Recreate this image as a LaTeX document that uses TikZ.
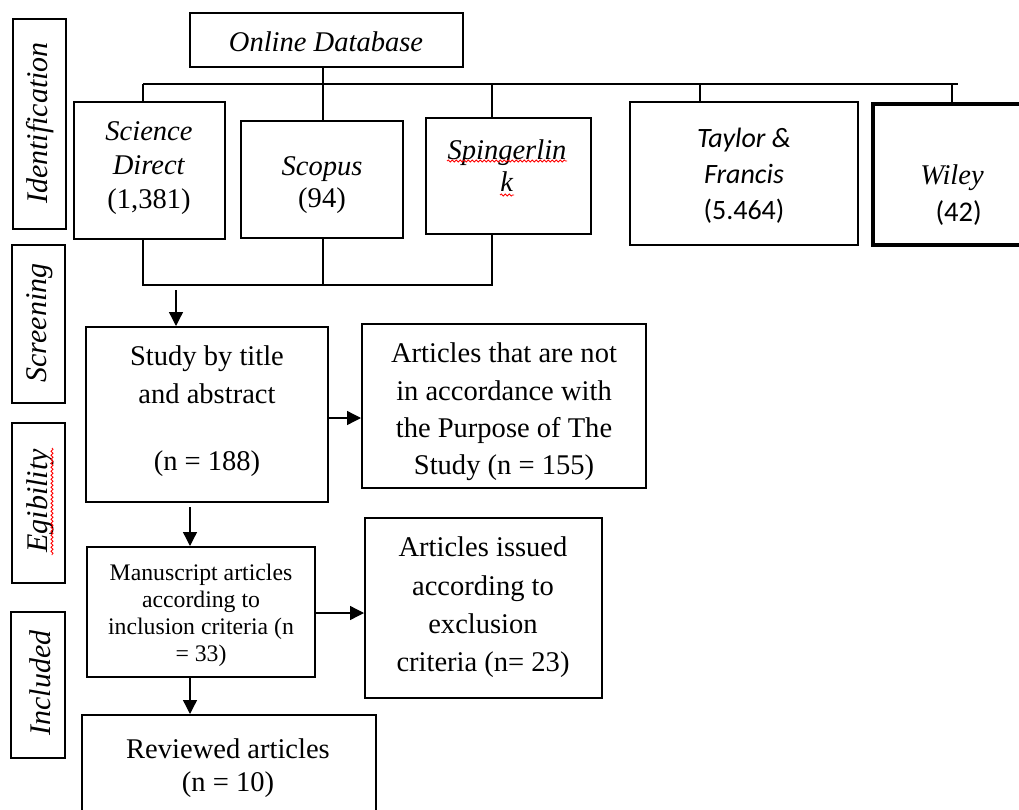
\documentclass[tikz,border=0pt]{standalone}
\usepackage{fontspec}
\setmainfont{Liberation Serif}
\newfontfamily\calibri{Carlito}
\usetikzlibrary{fit,arrows.meta,decorations.pathmorphing}
\tikzset{
  bx/.style={draw, line width=1.5pt, inner sep=0pt},
  bxthick/.style={draw, line width=3.2pt, inner sep=0pt},
  conn/.style={line width=1pt},
  arr/.style={line width=1pt, -{Triangle[length=10.5pt,width=10.5pt]}},
  tx/.style={font=\fontsize{21.4pt}{#1}\selectfont, align=center, inner sep=0pt},
  tx/.default=26pt,
  side/.style={font=\fontsize{22.5pt}{26pt}\selectfont\itshape, rotate=90, inner sep=0pt},
  squig/.style={red, line width=0.6pt, decorate, decoration={snake, amplitude=0.8pt, segment length=3pt}},
}
\newcommand\mkbox[6][bx]{\path (#3,#4) coordinate (#2-a) (#5,#6) coordinate (#2-b); \node[#1, fit=(#2-a)(#2-b)] (#2) {};}
\begin{document}
\begin{tikzpicture}[x=0.75pt,y=-0.75pt]
\useasboundingbox (0,0) rectangle (1019,809);
\clip (0,0) rectangle (1019,809);
% stage boxes
\mkbox{ident}{13}{19}{66}{229}
\mkbox{screen}{12}{245}{65}{403}
\mkbox{egib}{12}{423}{65}{583}
\mkbox{incl}{11}{612}{65}{758}
\node[side] (identT) at (40,123) {Identification};
\node[side] (screenT) at (40,323) {Screening};
\node[side] (egibT) at (40,501) {Egibility};
\node[side] (inclT) at (40,683) {Included};
% boxes
\mkbox{online}{190}{13}{463}{67}
\mkbox{sd}{74}{102}{225}{239}
\mkbox{scopus}{241}{121}{403}{238}
\mkbox{spr}{426}{118}{591}{234}
\mkbox{tf}{630}{102}{858}{245}
\mkbox[bxthick]{wiley}{873}{104}{1032}{245}
\mkbox{study}{86}{327}{328}{502}
\mkbox{notacc}{362}{324}{646}{488}
\mkbox{manu}{87}{547}{315}{677}
\mkbox{issued}{365}{518}{602}{698}
\mkbox{reviewed}{82}{715}{376}{830}
% texts
\node[tx] (onlineT) at (326,42) {\textit{Online Database}};
\node[tx=25.5pt] (sdT) at (149,168) {\textit{Science}\\\textit{Direct}\\(1,381)};
\node[tx=24.5pt] (scopusT) at (322,185) {\textit{Scopus}\\(94)};
\node[tx=24pt] (sprT) at (507,166) {\textit{Spingerlin}\\\textit{k}};
\node[tx, font=\calibri\fontsize{21pt}{27pt}\selectfont] (tfT) at (744,175.5) {\textit{Taylor \&}\\\textit{Francis}\\(5.464)};
\node[tx=27.75pt] (wileyT) at (952,195) {\textit{Wiley}\\{\calibri\hspace*{10pt}(42)}};
\node[tx=28.5pt] (studyT) at (207,411) {Study by title\\and abstract\\[21.75pt](n = 188)};
\node[tx=28pt] (notaccT) at (504,412) {Articles that are not\\in accordance with\\the Purpose of The\\Study (n = 155)};
\node[tx, font=\fontsize{17.8pt}{20.25pt}\selectfont] (manuT) at (201,615.5) {Manuscript articles\\according to\\inclusion criteria (n\\= 33)};
\node[tx=28.7pt] (issuedT) at (483,607.5) {Articles issued\\according to\\exclusion\\criteria (n= 23)};
\node[tx=25pt] (revT) at (228,768) {Reviewed articles\\(n = 10)};
% top bus
\coordinate (busL) at (143,84);
\coordinate (busR) at (958,84);
\coordinate (s2) at (323,84);
\coordinate (s3) at (492,84);
\coordinate (s4) at (700,84);
\coordinate (s5) at (952,84);
\draw[conn] (busL) -- (busR);
\draw[conn] (busL) -- (busL |- sd.north);
\draw[conn] (s2 |- online.south) -- (s2 |- scopus.north);
\draw[conn] (s3) -- (s3 |- spr.north);
\draw[conn] (s4) -- (s4 |- tf.north);
\draw[conn] (s5) -- (s5 |- wiley.north);
% bottom bus
\coordinate (bL) at (143,285);
\coordinate (bM) at (323,285);
\coordinate (bR) at (492,285);
\draw[conn] (bL |- sd.south) -- (bL) -- (bR) -- (bR |- spr.south);
\draw[conn] (bM |- scopus.south) -- (bM);
% arrows
\coordinate (a1) at (176,290);
\coordinate (a2) at (190,507);
\coordinate (a3) at (190,677);
\coordinate (h1) at (340,418);
\coordinate (h2) at (340,613);
\draw[arr] (a1) -- (a1 |- study.north);
\draw[arr] (study.east |- h1) -- (notacc.west |- h1);
\draw[arr] (a2) -- (a2 |- manu.north);
\draw[arr] (manu.east |- h2) -- (issued.west |- h2);
\draw[arr] (manu.south -| a3) -- (reviewed.north -| a3);
% spelling marks
\draw[squig] (447,161) -- (567,161);
\draw[squig] (500,195) -- (514,195);
\draw[squig] (52,448) -- (52,555);
\end{tikzpicture}
\end{document}
